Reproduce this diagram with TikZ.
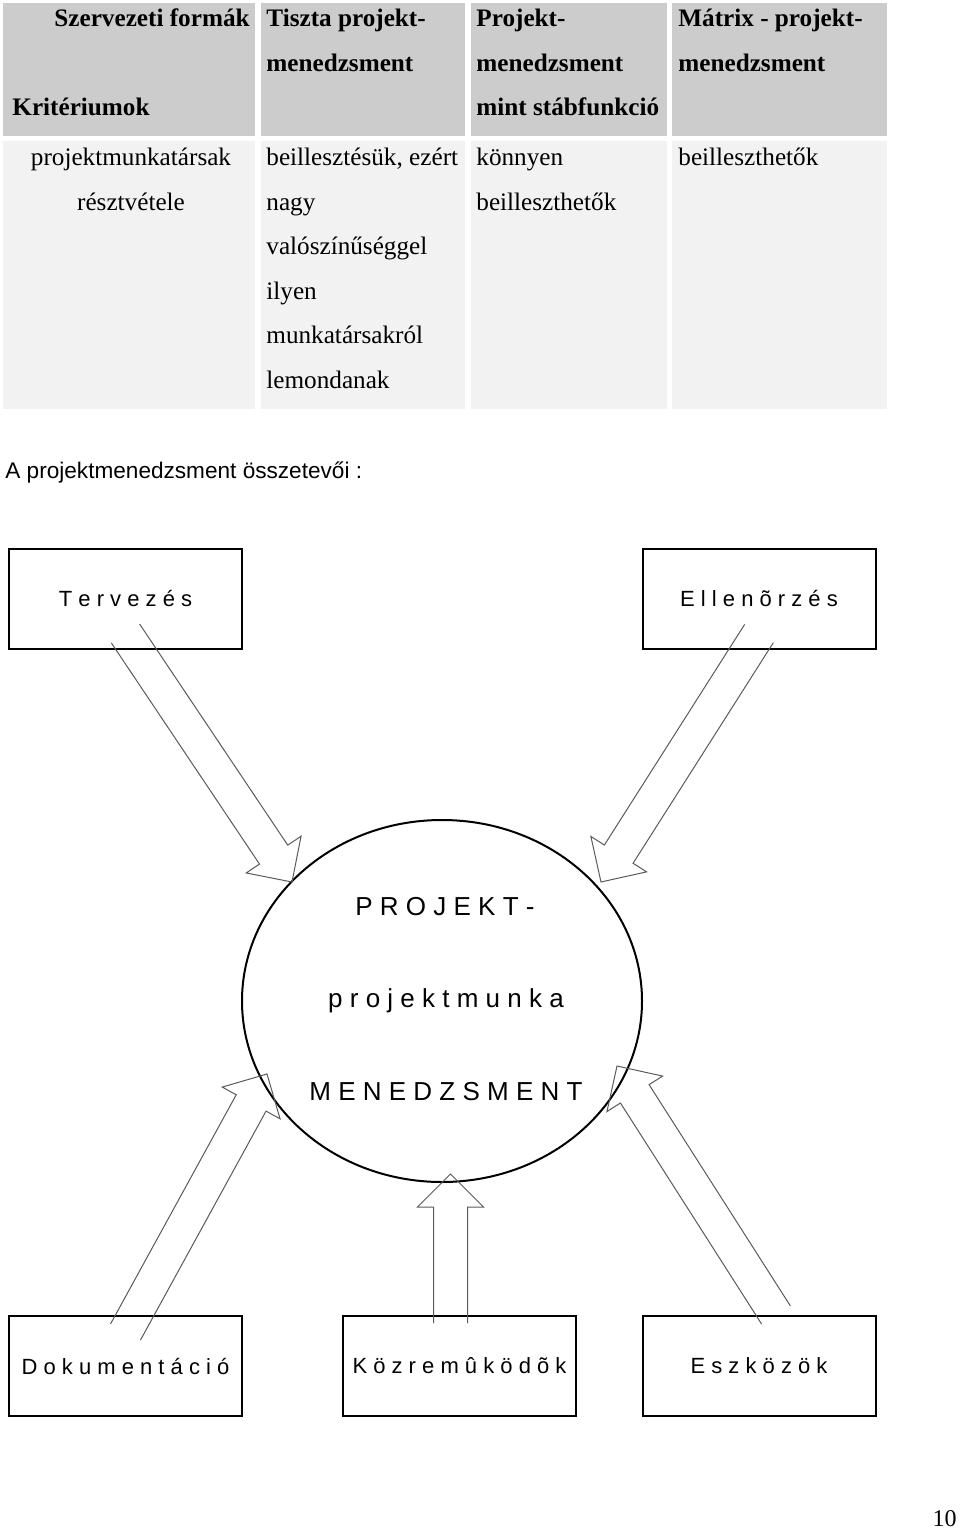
\documentclass[tikz,border=0pt]{standalone}
\usepackage{fontspec}
\setmainfont{Liberation Serif}
\setsansfont{Liberation Sans}
\usepackage{tikz}
\usetikzlibrary{shapes.geometric,calc}

\definecolor{fejszurke}{HTML}{CCCCCC}
\definecolor{testszurke}{HTML}{F2F2F2}
\definecolor{nyilszurke}{HTML}{5A5A5A}

% block arrow: #1 = start of shaft, #2 = tip
\newcommand{\blokknyil}[2]{%
  \coordinate (nyh) at ($(#2)!16.5pt!(#1)$);
  \draw[nyil] ($(#1)!8.5pt!90:(#2)$) -- ($(nyh)!8.5pt!90:(#2)$) -- ($(nyh)!16.5pt!90:(#2)$)
    -- (#2) -- ($(nyh)!16.5pt!-90:(#2)$) -- ($(nyh)!8.5pt!-90:(#2)$) -- ($(#1)!8.5pt!-90:(#2)$);
}

\begin{document}
\begin{tikzpicture}[x=0.5pt,y=-0.5pt,
    fej/.style={font=\bfseries\fontsize{12.6}{14}\selectfont,anchor=base west,inner sep=0pt},
    cella/.style={font=\fontsize{12.6}{14}\selectfont,anchor=base west,inner sep=0pt},
    doboz/.style={draw,line width=1pt,minimum width=116.5pt,minimum height=50pt,inner sep=0pt,
      font=\sffamily\fontsize{11}{13}\selectfont},
    kortxt/.style={font=\sffamily\fontsize{13}{15}\selectfont,anchor=base,inner sep=0pt},
    nyil/.style={draw=nyilszurke,line width=.5pt,line join=miter}]
  \useasboundingbox (0,0) rectangle (960,1531);

  % table
  \foreach \a/\b in {3/255,261/465,471/667,672/887} {
    \fill[fejszurke] (\a,3) rectangle (\b,136);
    \fill[testszurke] (\a,141) rectangle (\b,409);
  }
  \node[fej,anchor=base east] (szf) at (250,26) {Szervezeti formák};
  \node[fej] (krit) at (12,115) {Kritériumok};
  \node[fej] (tp1) at (266,26) {Tiszta projekt-};
  \node[fej] (tp2) at (266,71) {menedzsment};
  \node[fej] (pm1) at (476,26) {Projekt-};
  \node[fej] (pm2) at (476,71) {menedzsment};
  \node[fej] (pm3) at (476,115) {mint stábfunkció};
  \node[fej] (mx1) at (678,26) {Mátrix - projekt-};
  \node[fej] (mx2) at (678,71) {menedzsment};

  \node[cella,anchor=base] (pr1) at (131,165) {projektmunkatársak};
  \node[cella,anchor=base] (pr2) at (131,210) {résztvétele};
  \node[cella] (ti1) at (266,165) {beillesztésük, ezért};
  \node[cella] (ti2) at (266,210) {nagy};
  \node[cella] (ti3) at (266,254) {valószínűséggel};
  \node[cella] (ti4) at (266,299) {ilyen};
  \node[cella] (ti5) at (266,343) {munkatársakról};
  \node[cella] (ti6) at (266,388) {lemondanak};
  \node[cella] (st1) at (476,165) {könnyen};
  \node[cella] (st2) at (476,210) {beilleszthetők};
  \node[cella] (ma1) at (678,165) {beilleszthetők};

  \node[anchor=base west,inner sep=0pt,font=\sffamily\fontsize{11.3}{13}\selectfont] (cim) at (5,478)
    {A projektmenedzsment összetevői :};

  % components
  \node[doboz] (terv) at (125.5,599) {T e r v e z é s};
  \node[doboz] (ell) at (759,599) {E l l e n õ r z é s};
  \node[doboz] (dok) at (125.5,1366) {D o k u m e n t á c i ó};
  \node[doboz] (kozr) at (459.5,1366) {K ö z r e m û k ö d õ k};
  \node[doboz] (esz) at (759,1366) {E s z k ö z ö k};

  \node[draw,ellipse,line width=1pt,minimum width=200pt,minimum height=181pt,inner sep=0pt] (kor) at (442,1001) {};
  \node[kortxt] (kt1) at (445,915) {P R O J E K T -};
  \node[kortxt] (kt2) at (446,1007) {p r o j e k t m u n k a};
  \node[kortxt] (kt3) at (446,1100) {M E N E D Z S M E N T};

  % arrows
  \coordinate (terv0) at ($(terv.south)+(0,-16.5)$);
  \coordinate (ell0) at ($(ell.south)+(0,-16.5)$);
  \coordinate (dok0) at ($(dok.north)+(0,17)$);
  \coordinate (kozr0) at ($(kozr.north)+(-9,8)$);
  \coordinate (esz0) at ($(esz.north)+(17,0)$);
  \coordinate (tervv) at (292,882);
  \coordinate (ellv) at (601,882);
  \coordinate (dokv) at (267,1074);
  \coordinate (kozrv) at (450.5,1174);
  \coordinate (eszv) at (617,1066);
  \blokknyil{terv0}{tervv}
  \blokknyil{ell0}{ellv}
  \blokknyil{dok0}{dokv}
  \blokknyil{kozr0}{kozrv}
  \blokknyil{esz0}{eszv}

  \node[anchor=base east,inner sep=0pt,font=\fontsize{12}{14}\selectfont] (oldal) at (957,1526) {10};
\end{tikzpicture}
\end{document}
